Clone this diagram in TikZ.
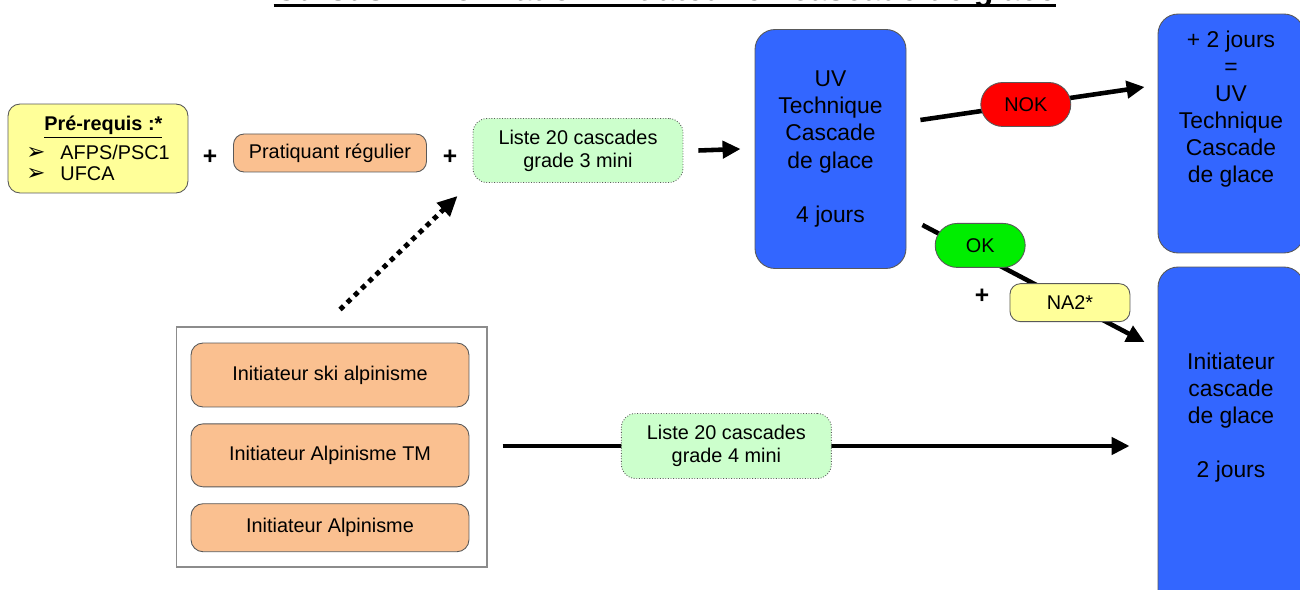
\documentclass[tikz,border=0pt]{standalone}
\usepackage{fontspec}
\setmainfont{Liberation Sans}
\newfontfamily\symfont{DejaVu Sans}
\usetikzlibrary{arrows.meta,positioning,calc}
\definecolor{uvblue}{RGB}{51,102,255}
\definecolor{peach}{RGB}{250,192,144}
\definecolor{mint}{RGB}{204,255,204}
\definecolor{paleyellow}{RGB}{255,255,153}
\definecolor{nokred}{RGB}{255,0,0}
\definecolor{okgreen}{RGB}{0,238,0}

\begin{document}
\begin{tikzpicture}[x=0.02cm, y=-0.02cm, font=\fontsize{11.3}{13.5}\selectfont,
  box/.style={draw=black!65, line width=0.5pt, rounded corners=6pt, align=center, inner sep=2pt},
  uvbox/.style={box, fill=uvblue, rounded corners=0.4cm, minimum width=3.02cm, minimum height=4.78cm, font=\fontsize{13}{15.4}\selectfont},
  listbox/.style={box, fill=mint, densely dotted, rounded corners=8pt, minimum width=4.2cm, minimum height=1.28cm, font=\fontsize{11.3}{13}\selectfont},
  pill/.style={box, rounded corners=0.44cm, minimum width=1.8cm, minimum height=0.88cm},
  plus/.style={font=\bfseries\fontsize{14}{14}\selectfont, inner sep=0pt},
  flow/.style={line width=2.6pt, -{Triangle[length=0.36cm, width=0.34cm]}}]
  \clip (0,0) rectangle (1300,590);
  % title, cut by the top edge
  \node[font=\bfseries\fontsize{18.3}{22}\selectfont, inner sep=0pt, anchor=base] (title) at (665,1) {Cursus 1 : formation initiateur en cascade de glace};
  \draw[line width=0.07cm] ($(title.base west)+(0,4.5)$) -- ($(title.base east)+(0,4.5)$);
  % top row
  \node[box, fill=paleyellow, rounded corners=0.24cm, minimum width=3.6cm, minimum height=1.78cm, align=left, font=\fontsize{11.3}{11.8}\selectfont] (prereq) at (98,148.5) {\hspace*{0.36cm}\underline{\textbf{Pré-requis :*}}\\[3pt]
     {\symfont\fontsize{13}{11.8}\selectfont ➢}\hspace{0.3cm}AFPS/PSC1\\ {\symfont\fontsize{13}{11.8}\selectfont ➢}\hspace{0.3cm}UFCA};
  \node[plus] (plus1) at (210,157) {+};
  \node[box, fill=peach, minimum width=3.86cm, minimum height=0.76cm] (prat) at (330,153) {Pratiquant régulier};
  \node[plus] (plus2) at (450,157) {+};
  \node[listbox] (liste3) at (578,150.5) {Liste 20 cascades\\ grade 3 mini};
  \node[uvbox] (uv) at (830.5,149) {UV\\ Technique\\ Cascade\\ de glace\\ \mbox{}\\ 4 jours};
  \node[uvbox, minimum width=2.92cm] (upright) at (1231,133.5) {+ 2 jours\\ =\\ UV\\ Technique\\ Cascade\\ de glace\\ \mbox{}\\ \mbox{}};
  \node[uvbox, minimum width=2.92cm, minimum height=7cm] (lowright) at (1231,442) {Initiateur\\ cascade\\ de glace\\ \mbox{}\\ 2 jours\\ \mbox{}\\ \mbox{}};
  % other initiators
  \node[draw=black!45, line width=0.6pt, minimum width=6.22cm, minimum height=4.8cm] (group) at (331.5,447) {};
  \node[box, fill=peach, rounded corners=0.24cm, minimum width=5.56cm, minimum height=1.28cm] (ski) at (330,375) {Initiateur ski alpinisme};
  \node[box, fill=peach, rounded corners=0.24cm, minimum width=5.56cm, minimum height=1.26cm, below=0.32cm of ski] (tm) {Initiateur Alpinisme TM};
  \node[box, fill=peach, rounded corners=0.24cm, minimum width=5.56cm, minimum height=0.96cm, below=0.32cm of tm] (alp) {Initiateur Alpinisme};
  \node[plus] (plus3) at (982,296) {+};
  % arrows
  \draw[flow] ([xshift=0.3cm]liste3.east) -- ([xshift=-0.28cm]uv.west);
  \draw[flow] ([shift={(14,-29)}]uv.east) -- node[pos=0.47, pill, fill=nokred] (nok) {NOK} ([shift={(-13,-46.5)}]upright.west);
  \draw[flow] ([shift={(16,76)}]uv.east) -- node[pos=0.26, pill, fill=okgreen, yshift=0.2cm] (ok) {OK}
     node[pos=0.664, box, fill=paleyellow, minimum width=2.4cm, minimum height=0.76cm] (na2) {NA2*} ([shift={(-13,-100)}]lowright.west);
  \draw[line width=2.8pt, dash pattern=on 0.1cm off 0.1cm, -{Triangle[length=0.4cm, width=0.36cm]}] ([shift={(8.5,-17)}]group.north) -- ([shift={(-15,13)}]liste3.south west);
  \draw[flow] ([shift={(15,-1)}]group.east) -- node[pos=0.357, listbox, minimum height=1.3cm] (liste4) {Liste 20 cascades\\ grade 4 mini} ([shift={(-28,4)}]lowright.west);
\end{tikzpicture}
\end{document}
